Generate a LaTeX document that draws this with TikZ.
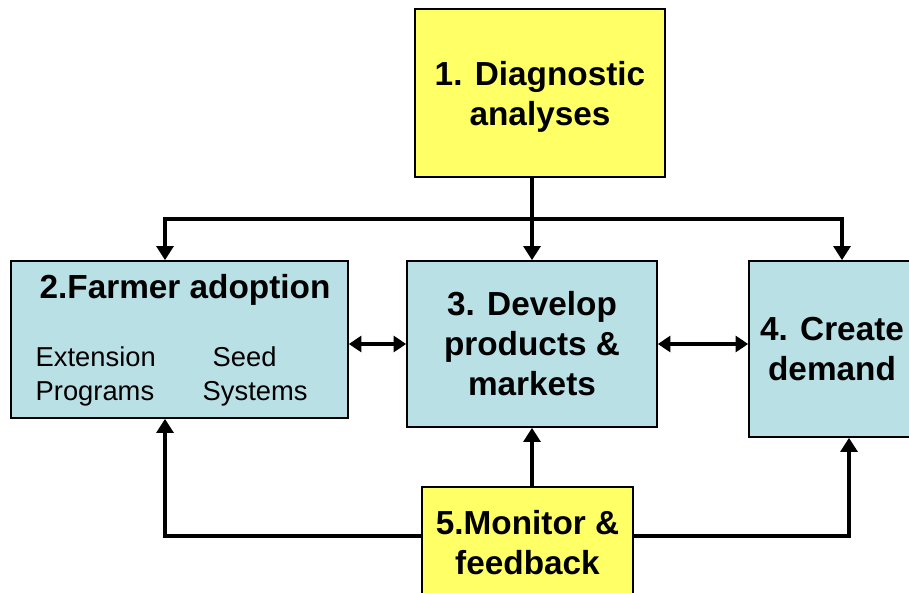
\documentclass[tikz,border=0pt]{standalone}
\usepackage{fontspec}
\setmainfont{Liberation Sans}
\usepackage{tikz}
\usetikzlibrary{arrows.meta}

\definecolor{notepad}{RGB}{255,255,102}
\definecolor{paleteal}{RGB}{185,224,228}

\tikzset{
    stage/.style = {draw, line width=1.2pt, inner sep=0pt, align=center,
                    font=\bfseries\fontsize{25}{30}\selectfont},
    flow/.style = {line width=3.6pt, -{Triangle[length=10.5pt,width=12.5pt]}},
    twoway/.style = {line width=3.6pt, {Triangle[length=9.5pt,width=12pt]}-{Triangle[length=9.5pt,width=12pt]}},
    subtext/.style = {font=\fontsize{20.5}{25.5}\selectfont}
}

\begin{document}
\begin{tikzpicture}[x=0.75pt, y=-0.75pt]
                % Frame of the page
                \useasboundingbox (0,0) rectangle (909,592);
                \clip (0,0) rectangle (909,592);

                % Stages
                \node[stage, fill=notepad, minimum width=187.5pt, minimum height=126pt, text depth=0pt] (diag) at (540,93) {\rule{0pt}{4pt}1. Diagnostic\\analyses};
                \node[stage, fill=paleteal, minimum width=252.75pt, minimum height=117.75pt] (adopt) at (179.5,339.5) {};
                \node[stage, fill=paleteal, minimum width=187.5pt, minimum height=124.5pt] (develop) at (532,344) {3. Develop\\products \&\\markets};
                \node[stage, fill=paleteal, minimum width=124.5pt, minimum height=132pt] (demand) at (832,349) {4. Create\\demand};
                \node[stage, fill=notepad, minimum width=158.25pt, minimum height=83.25pt] (monitor) at (527.5,542.5) {5.Monitor \&\\feedback};

                % Contents of stage 2
                \node[font=\bfseries\fontsize{25}{30}\selectfont] (adoptTitle) at (185,290) {2.Farmer adoption};
                \node[subtext, align=left, anchor=west] (extension) at (31,376) {Extension\\Programs};
                \node[subtext, align=left, anchor=west] (seed) at (198,376) {\hspace{7.5pt}Seed\\Systems};

                % Fork from the diagnostic analyses
                \coordinate (fork) at (533,219);
                \coordinate (forkL) at (165,219);
                \coordinate (forkR) at (842,219);
                \draw[flow] (diag.south -| develop.north) -- (develop.north);
                \draw[flow] (forkR) -- (forkL) -- (forkL |- adopt.north);
                \draw[flow] (fork) -- (forkR) -- (forkR |- demand.north);

                % Links between the middle stages
                \draw[twoway] (adopt.east |- develop.center) -- (develop.west);
                \draw[twoway] (develop.east) -- (demand.west |- develop.center);

                % Feedback loops
                \coordinate (backL) at (165,536);
                \coordinate (backR) at (849,536);
                \draw[flow] (monitor.north -| develop.south) -- (develop.south);
                \draw[flow] (monitor.west |- backL) -- (backL) -- (backL |- adopt.south);
                \draw[flow] (monitor.east |- backR) -- (backR) -- (backR |- demand.south);
            \end{tikzpicture}
\end{document}
